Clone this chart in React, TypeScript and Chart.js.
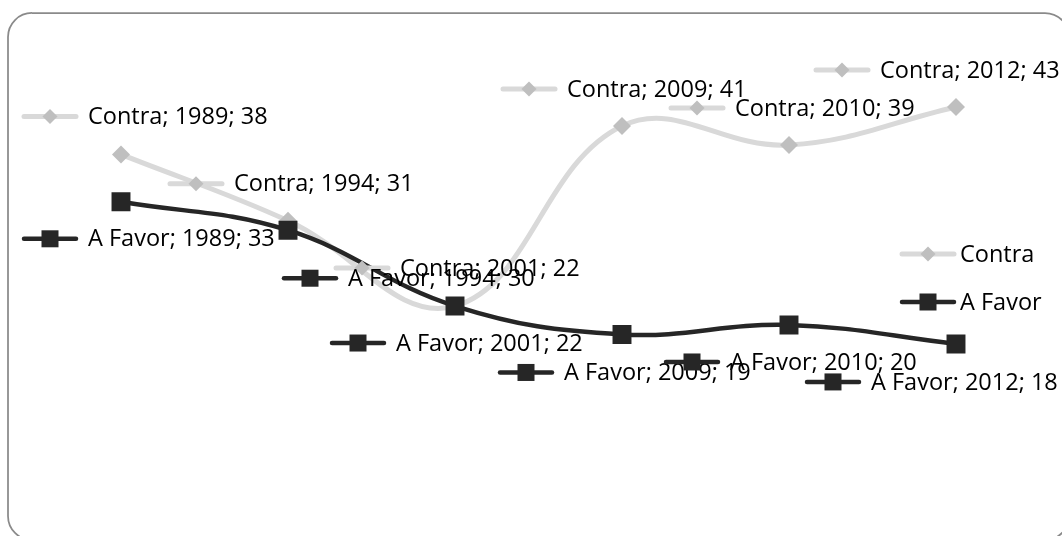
import React, { useEffect, useRef } from "react";
import { Chart, registerables } from "chart.js";

Chart.register(...registerables);

// ---- data ----
const categories = ["1989", "1994", "2001", "2009", "2010", "2012"];
const contraValues = [38, 31, 22, 41, 39, 43];
const favorValues = [33, 30, 22, 19, 20, 18];
const seriesNames = ["Contra", "A Favor"];
const yMin = 0;
const yMax = 50;

// ---- label placement (pixel offsets of the label key from its point) ----
const contraLabelOffsets = [
  [-71, -38],
  [-92, -37],
  [-93, -38],
  [-93, -37],
  [-92, -37],
  [-114, -37],
];
const favorLabelOffsets = [
  [-71, 37],
  [22, 48],
  [-97, 37],
  [-96, 38],
  [-97, 37],
  [-123, 38],
];

const W = 1062;
const H = 536;
const FONT = '23.5px "Open Sans", sans-serif';
const CONTRA_LINE = "#d9d9d9";
const CONTRA_MARK = "#bfbfbf";
const FAVOR_COLOR = "#262626";

function drawKey(ctx: CanvasRenderingContext2D, cx: number, cy: number, kind: number) {
  ctx.save();
  ctx.lineCap = "round";
  if (kind === 0) {
    ctx.strokeStyle = CONTRA_LINE;
    ctx.lineWidth = 5;
    ctx.beginPath();
    ctx.moveTo(cx - 26, cy);
    ctx.lineTo(cx + 26, cy);
    ctx.stroke();
    ctx.fillStyle = CONTRA_MARK;
    const r = 7.5;
    ctx.beginPath();
    ctx.moveTo(cx - r, cy);
    ctx.lineTo(cx, cy - r);
    ctx.lineTo(cx + r, cy);
    ctx.lineTo(cx, cy + r);
    ctx.closePath();
    ctx.fill();
  } else {
    ctx.strokeStyle = FAVOR_COLOR;
    ctx.lineWidth = 4.5;
    ctx.beginPath();
    ctx.moveTo(cx - 26, cy);
    ctx.lineTo(cx + 26, cy);
    ctx.stroke();
    ctx.fillStyle = FAVOR_COLOR;
    const s = 17;
    ctx.fillRect(cx - s / 2, cy - s / 2, s, s);
  }
  ctx.restore();
}

const excelPlugin = {
  id: "excelLook",
  beforeDraw(chart: any) {
    const ctx: CanvasRenderingContext2D = chart.ctx;
    ctx.save();
    ctx.fillStyle = "#ffffff";
    ctx.fillRect(0, 0, W, H);
    ctx.strokeStyle = "#8a8a8a";
    ctx.lineWidth = 1.75;
    ctx.beginPath();
    (ctx as any).roundRect(8, 13, 1061, 527, 24);
    ctx.stroke();
    ctx.restore();
  },
  afterDatasetsDraw(chart: any) {
    const ctx: CanvasRenderingContext2D = chart.ctx;
    const xs = chart.scales.x;
    const ys = chart.scales.y;
    ctx.save();
    ctx.font = FONT;
    ctx.fillStyle = "#000000";
    ctx.textBaseline = "middle";
    ctx.textAlign = "left";
    const series = [
      { vals: contraValues, offs: contraLabelOffsets },
      { vals: favorValues, offs: favorLabelOffsets },
    ];
    series.forEach((s, k) => {
      s.vals.forEach((v, i) => {
        const px = xs.getPixelForValue(i);
        const py = ys.getPixelForValue(v);
        const cx = px + s.offs[i][0];
        const cy = py + s.offs[i][1];
        drawKey(ctx, cx, cy, k);
        ctx.fillStyle = "#000000";
        ctx.fillText(`${seriesNames[k]}; ${categories[i]}; ${v}`, cx + 38, cy + 1);
      });
    });
    // legend
    const lx = 928;
    const ly = [254, 302];
    seriesNames.forEach((name, k) => {
      drawKey(ctx, lx, ly[k], k);
      ctx.fillStyle = "#000000";
      ctx.fillText(name, lx + 32, ly[k] + 1);
    });
    ctx.restore();
  },
};

export default function App() {
  const ref = useRef<HTMLCanvasElement | null>(null);
  useEffect(() => {
    if (!ref.current) return;
    const chart = new Chart(ref.current, {
      type: "line",
      data: {
        labels: categories,
        datasets: [
          {
            label: seriesNames[1],
            data: favorValues,
            borderColor: FAVOR_COLOR,
            backgroundColor: FAVOR_COLOR,
            borderWidth: 4.5,
            pointStyle: "rect",
            pointRadius: 13.4,
            pointBorderWidth: 0,
            pointBackgroundColor: FAVOR_COLOR,
            tension: 0.4,
            order: 0,
          },
          {
            label: seriesNames[0],
            data: contraValues,
            borderColor: CONTRA_LINE,
            backgroundColor: CONTRA_MARK,
            borderWidth: 5,
            pointStyle: "rectRot",
            pointRadius: 9,
            pointBorderWidth: 0,
            pointBackgroundColor: CONTRA_MARK,
            tension: 0.4,
            order: 1,
          },
        ],
      },
      options: {
        animation: false,
        responsive: false,
        devicePixelRatio: 1,
        layout: { padding: { left: 121, right: W - 956, top: 40.7, bottom: H - 514.5 } },
        plugins: { legend: { display: false }, tooltip: { enabled: false } },
        elements: { line: { capBezierPoints: false } },
        scales: {
          x: { type: "category", display: false, offset: false },
          y: { type: "linear", display: false, min: yMin, max: yMax },
        },
      },
      plugins: [excelPlugin],
    });
    return () => chart.destroy();
  }, []);
  return (
    <div style={{ position: "absolute", left: 0, top: 0, width: W, height: H, overflow: "hidden" }}>
      <canvas ref={ref} width={W} height={H} style={{ display: "block", width: W, height: H }} />
    </div>
  );
}
